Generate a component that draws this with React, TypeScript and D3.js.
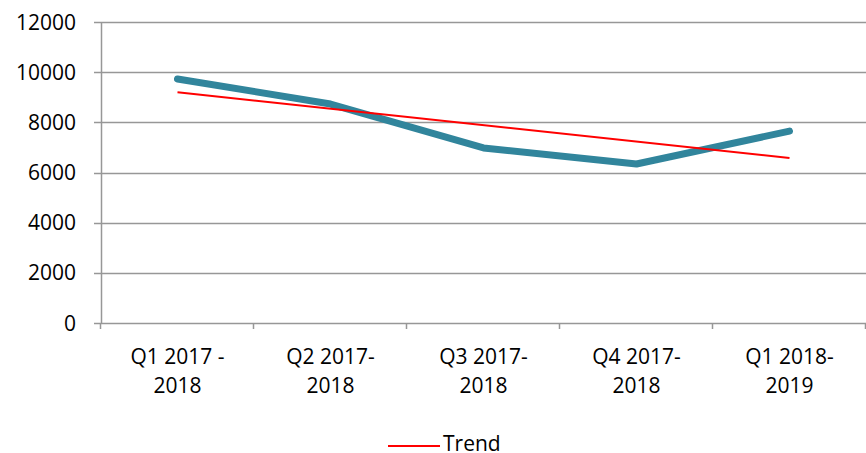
import { useEffect, useRef } from "react"
import * as d3 from "d3"

// quarters (two-line tick labels)
const categories = ["Q1 2017 -\n2018", "Q2 2017-\n2018", "Q3 2017-\n2018", "Q4 2017-\n2018", "Q1 2018-\n2019"]
const values = [9730, 8730, 6980, 6340, 7650]
const yTicks = [0, 2000, 4000, 6000, 8000, 10000, 12000]

export default function App() {
  const svgRef = useRef<SVGSVGElement>(null)

  useEffect(() => {
    if (!svgRef.current) return
    const svg = d3.select(svgRef.current)
    svg.selectAll("*").remove()

    const width = 866
    const height = 453
    const left = 101
    const right = 866
    const top = 22
    const bottom = 323
    const font = "'Open Sans', 'Liberation Sans', sans-serif"

    const x = d3.scaleBand<number>().domain(d3.range(categories.length)).range([left, right])
    const y = d3.scaleLinear().domain([0, 12000]).range([bottom, top])

    // gridlines
    svg
      .append("g")
      .selectAll("line")
      .data(yTicks)
      .enter()
      .append("line")
      .attr("x1", left - 7)
      .attr("x2", right)
      .attr("y1", (d) => Math.round(y(d)) + 0.5)
      .attr("y2", (d) => Math.round(y(d)) + 0.5)
      .attr("stroke", "#979797")
      .attr("stroke-width", 1.5)

    // y axis line
    svg
      .append("line")
      .attr("x1", left + 0.5)
      .attr("x2", left + 0.5)
      .attr("y1", top)
      .attr("y2", bottom)
      .attr("stroke", "#979797")
      .attr("stroke-width", 1.5)

    // x ticks at band boundaries
    const bounds = d3.range(categories.length + 1).map((i) => left + i * x.step())
    svg
      .append("g")
      .selectAll("line")
      .data(bounds)
      .enter()
      .append("line")
      .attr("x1", (d) => Math.round(d) - 0.5)
      .attr("x2", (d) => Math.round(d) - 0.5)
      .attr("y1", bottom)
      .attr("y2", bottom + 6)
      .attr("stroke", "#979797")
      .attr("stroke-width", 1.5)

    // y labels
    svg
      .append("g")
      .selectAll("text")
      .data(yTicks)
      .enter()
      .append("text")
      .attr("x", 76)
      .attr("y", (d) => y(d))
      .attr("dy", "0.36em")
      .attr("text-anchor", "end")
      .style("font-family", font)
      .style("font-size", "21px")
      .style("fill", "#000")
      .text((d) => d)

    // x labels
    const xl = svg
      .append("g")
      .selectAll("text")
      .data(categories)
      .enter()
      .append("text")
      .attr("text-anchor", "middle")
      .style("font-family", font)
      .style("font-size", "21px")
      .style("fill", "#000")
    xl.each(function (d, i) {
      const t = d3.select(this)
      d.split("\n").forEach((line, j) => {
        t.append("tspan")
          .attr("x", x(i)! + x.bandwidth() / 2)
          .attr("y", 364 + j * 29)
          .text(line)
      })
    })

    // data line
    const line = d3
      .line<number>()
      .x((_, i) => x(i)! + x.bandwidth() / 2)
      .y((d) => y(d))
    svg
      .append("path")
      .datum(values)
      .attr("d", line)
      .attr("fill", "none")
      .attr("stroke", "#31859C")
      .attr("stroke-width", 7)
      .attr("stroke-linecap", "round")
      .attr("stroke-linejoin", "round")

    // linear trend (least squares)
    const xs = values.map((_, i) => i + 1)
    const mx = d3.mean(xs)!
    const my = d3.mean(values)!
    const slope =
      d3.sum(xs, (xi, i) => (xi - mx) * (values[i] - my)) / d3.sum(xs, (xi) => (xi - mx) ** 2)
    const trend = xs.map((xi) => my + slope * (xi - mx))
    svg
      .append("path")
      .datum([trend[0], trend[trend.length - 1]])
      .attr(
        "d",
        d3
          .line<number>()
          .x((_, i) => x(i === 0 ? 0 : trend.length - 1)! + x.bandwidth() / 2)
          .y((d) => y(d))
      )
      .attr("fill", "none")
      .attr("stroke", "#FF0000")
      .attr("stroke-width", 2)

    // legend
    const lg = svg.append("g").attr("transform", `translate(388, 446)`)
    lg.append("line").attr("x1", 0).attr("x2", 52).attr("y1", 0).attr("y2", 0).attr("stroke", "#FF0000").attr("stroke-width", 2)
    lg.append("text")
      .attr("x", 55)
      .attr("y", 5)
      .style("font-family", font)
      .style("font-size", "21px")
      .style("fill", "#000")
      .text("Trend")

    svg.attr("width", width).attr("height", height)
  }, [])

  return (
    <div style={{ position: "absolute", left: 0, top: 0, width: 866, height: 453, background: "#fff", overflow: "hidden" }}>
      <svg ref={svgRef} style={{ display: "block" }}></svg>
    </div>
  )
}
